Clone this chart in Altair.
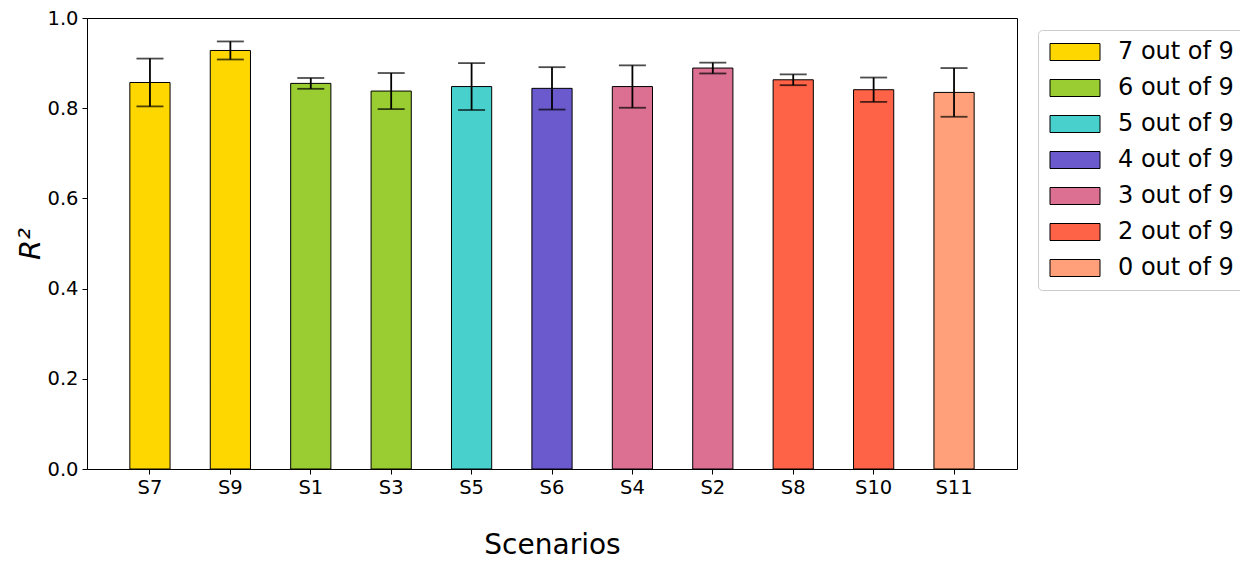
import altair as alt
import pandas as pd

scenarios = ["S7", "S9", "S1", "S3", "S5", "S6", "S4", "S2", "S8", "S10", "S11"]
groups = ["7 out of 9", "7 out of 9", "6 out of 9", "6 out of 9", "5 out of 9",
          "4 out of 9", "3 out of 9", "3 out of 9", "2 out of 9", "2 out of 9", "0 out of 9"]
r2 = [0.857, 0.928, 0.855, 0.838, 0.848, 0.844, 0.848, 0.889, 0.863, 0.841, 0.835]
err = [0.053, 0.020, 0.012, 0.040, 0.052, 0.047, 0.047, 0.012, 0.012, 0.027, 0.054]
group_order = ["7 out of 9", "6 out of 9", "5 out of 9", "4 out of 9",
               "3 out of 9", "2 out of 9", "0 out of 9"]
group_colors = ["#FFD700", "#9ACD32", "#48D1CC", "#6A5ACD", "#DB7093", "#FF6347", "#FFA07A"]

df = pd.DataFrame({
    "scenario": scenarios,
    "group": groups,
    "r2": r2,
    "lo": [v - e for v, e in zip(r2, err)],
    "hi": [v + e for v, e in zip(r2, err)],
})

xscale = alt.Scale(paddingInner=0.5, paddingOuter=0.533)
yscale = alt.Scale(domain=[0, 1], nice=False)

xenc = alt.X("scenario:N", sort=scenarios, scale=xscale,
             axis=alt.Axis(title="Scenarios", labelAngle=0, labelFontSize=19.5,
                           titleFontSize=28, titleFontWeight="normal",
                           titlePadding=35, tickSize=5, labelPadding=4,
                           domainColor="black", tickColor="black", labelColor="black",
                           titleColor="black"))

bars = alt.Chart(df).mark_bar(stroke="black", strokeWidth=1).encode(
    x=xenc,
    y=alt.Y("r2:Q", scale=yscale,
            axis=alt.Axis(title="R²", values=[0, 0.2, 0.4, 0.6, 0.8, 1.0], format=".1f",
                          labelFontSize=19.5, titleFontSize=29, titleFontWeight="normal",
                          titleFontStyle="italic", titlePadding=1, tickSize=5,
                          labelPadding=4, grid=False, domainColor="black",
                          tickColor="black", labelColor="black", titleColor="black")),
    color=alt.Color("group:N",
                    scale=alt.Scale(domain=group_order, range=group_colors),
                    legend=alt.Legend(title=None, orient="none", legendX=951, legendY=12,
                                      labelFontSize=24, labelColor="black",
                                      symbolType="M-1,-0.85L4,-0.85L4,0.85L-1,0.85Z",
                                      symbolSize=400, symbolStrokeColor="black",
                                      symbolStrokeWidth=1, symbolOpacity=1,
                                      labelOffset=46, rowPadding=12,
                                      padding=10, strokeColor="#cccccc",
                                      cornerRadius=4, fillColor="white")),
)

frame_axis = dict(labels=False, ticks=False, title=None, grid=False, domainColor="black")

rules = alt.Chart(df).mark_rule(color="black", strokeWidth=1.8).encode(
    x=alt.X("scenario:N", sort=scenarios, scale=xscale, axis=alt.Axis(orient="top", **frame_axis)),
    y=alt.Y("lo:Q", scale=yscale, axis=alt.Axis(orient="right", **frame_axis)),
    y2="hi:Q",
)
cap_lo = alt.Chart(df).mark_tick(color="black", thickness=1.8, size=27, orient="horizontal").encode(
    x=alt.X("scenario:N", sort=scenarios, scale=xscale, axis=None),
    y=alt.Y("lo:Q", scale=yscale, axis=None))
cap_hi = alt.Chart(df).mark_tick(color="black", thickness=1.8, size=27, orient="horizontal").encode(
    x=alt.X("scenario:N", sort=scenarios, scale=xscale, axis=None),
    y=alt.Y("hi:Q", scale=yscale, axis=None))

chart = alt.layer(bars, rules, cap_lo, cap_hi).resolve_axis(
    x="independent", y="independent"
).properties(
    width=930, height=451,
    autosize=alt.AutoSizeParams(type="none"),
    padding={"left": 79, "top": 10, "right": 223, "bottom": 93},
).configure_view(strokeWidth=0).configure(font="DejaVu Sans")

chart.save("out.html", embed_options={"renderer": "svg", "actions": False})
